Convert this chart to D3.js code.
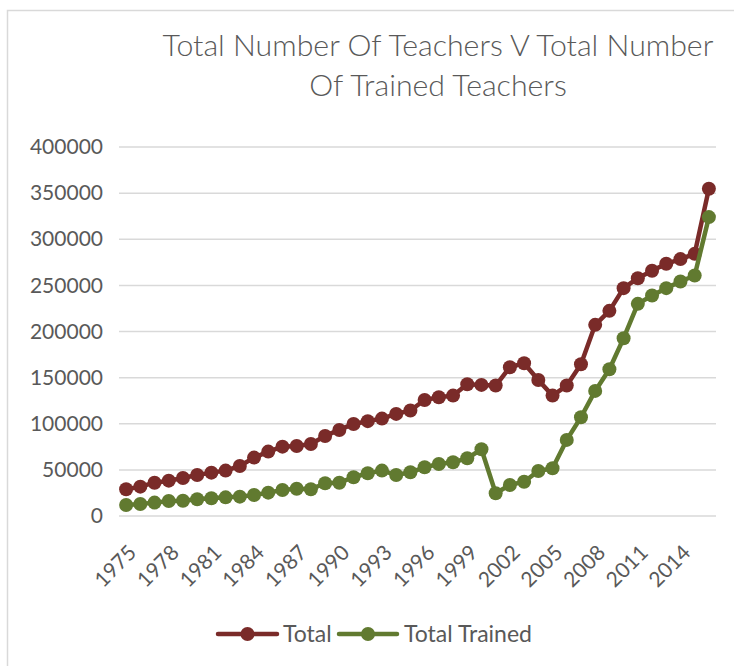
<!DOCTYPE html>
<html>
<head>
<meta charset="utf-8">
<script src="https://cdn.jsdelivr.net/npm/d3@7"></script>
<style>
  html, body { margin: 0; padding: 0; background: #fff; }
  svg { display: block; }
  text { font-family: Lato, "Open Sans", sans-serif; fill: #595959; }
</style>
</head>
<body>
<svg id="chart" width="734" height="666"></svg>
<script>
// Teacher numbers per year
const years = d3.range(1975, 2017);
const totalTeachers = [
  29000, 31800, 36100, 38300, 41200, 44500, 47000, 49200, 54200, 63300,
  69800, 75200, 75900, 78100, 86800, 93300, 99800, 102800, 105600, 110700,
  114300, 125800, 128700, 130500, 142800, 142100, 141400, 161300, 165600, 147500,
  130500, 141400, 164500, 207200, 222400, 247000, 257800, 265800, 273400, 278500,
  284200, 354800
];
const trainedTeachers = [
  11900, 13000, 14500, 16300, 16600, 18100, 19200, 20200, 21000, 22800,
  25300, 28200, 29600, 29000, 35500, 36100, 42000, 46300, 49200, 44500,
  47400, 52800, 56400, 58200, 62600, 72300, 24600, 33600, 37200, 48800,
  51700, 82500, 107000, 135600, 159100, 192700, 230000, 239000, 247000, 254200,
  260700, 324000
];
const yTicks = [0, 50000, 100000, 150000, 200000, 250000, 300000, 350000, 400000];
const xTickLabels = [1975, 1978, 1981, 1984, 1987, 1990, 1993, 1996, 1999, 2002, 2005, 2008, 2011, 2014];
const seriesNames = ["Total", "Total Trained"];
const colors = ["#7A2B29", "#617A30"];

const svg = d3.select("#chart");

// Chart frame
svg.append("rect")
  .attr("x", 7.5).attr("y", 10.5)
  .attr("width", 740).attr("height", 680)
  .attr("fill", "none").attr("stroke", "#D9D9D9").attr("stroke-width", 1.5);

const plot = { left: 119, right: 716, top: 147, bottom: 516 };

const x = d3.scalePoint().domain(years).range([plot.left, plot.right]).padding(0.5);
const y = d3.scaleLinear().domain([0, 400000]).range([plot.bottom, plot.top]);

// Title (two lines), light weight, sized so the first line spans the header width
const title = svg.append("text")
  .attr("text-anchor", "middle")
  .style("font-weight", 300)
  .style("font-size", "30px");
const t1 = title.append("tspan").attr("x", 438).attr("y", 56)
  .text("Total Number Of Teachers V Total Number");
title.append("tspan").attr("x", 438).attr("y", 96)
  .text("Of Trained Teachers");
const w1 = t1.node().getComputedTextLength();
if (w1 > 0) title.style("font-size", (30 * 551 / w1).toFixed(2) + "px");

// Horizontal gridlines
svg.append("g")
  .selectAll("line")
  .data(yTicks)
  .join("line")
  .attr("x1", plot.left).attr("x2", plot.right)
  .attr("y1", d => y(d)).attr("y2", d => y(d))
  .attr("stroke", "#D9D9D9").attr("stroke-width", 1.5);

// Y axis labels
const yAxis = d3.axisLeft(y).tickValues(yTicks).tickSize(0).tickPadding(16)
  .tickFormat(d3.format("d"));
const gy = svg.append("g").attr("transform", `translate(${plot.left},0)`).call(yAxis);
gy.select(".domain").remove();
gy.selectAll("text").style("font-size", "21px").style("fill", "#595959")
  .style("font-family", "Lato, 'Open Sans', sans-serif");

// X axis labels, rotated
const xAxis = d3.axisBottom(x).tickValues(xTickLabels).tickSize(0);
const gx = svg.append("g").attr("transform", `translate(0,${plot.bottom})`).call(xAxis);
gx.select(".domain").remove();
gx.selectAll("text")
  .style("font-size", "21px").style("fill", "#595959")
  .style("font-family", "Lato, 'Open Sans', sans-serif")
  .attr("text-anchor", "end")
  .attr("dy", null)
  .attr("y", 0)
  .attr("transform", "translate(11,38) rotate(-45)");

// Lines and markers
const line = d3.line().x((d, i) => x(years[i])).y(d => y(d));
[totalTeachers, trainedTeachers].forEach((series, s) => {
  const g = svg.append("g");
  g.append("path")
    .datum(series)
    .attr("d", line)
    .attr("fill", "none")
    .attr("stroke", colors[s])
    .attr("stroke-width", 4.5)
    .attr("stroke-linejoin", "round");
  g.selectAll("circle")
    .data(series)
    .join("circle")
    .attr("cx", (d, i) => x(years[i]))
    .attr("cy", d => y(d))
    .attr("r", 7)
    .attr("fill", colors[s]);
});

// Legend
const legendItems = [
  { name: seriesNames[0], color: colors[0], x1: 218, x2: 277, tx: 283 },
  { name: seriesNames[1], color: colors[1], x1: 339, x2: 397, tx: 404 }
];
const lg = svg.append("g");
legendItems.forEach(it => {
  lg.append("line")
    .attr("x1", it.x1).attr("x2", it.x2).attr("y1", 634).attr("y2", 634)
    .attr("stroke", it.color).attr("stroke-width", 4.5).attr("stroke-linecap", "round");
  lg.append("circle")
    .attr("cx", (it.x1 + it.x2) / 2).attr("cy", 634).attr("r", 7)
    .attr("fill", it.color);
  lg.append("text")
    .attr("x", it.tx).attr("y", 642)
    .style("font-size", "23px")
    .text(it.name);
});
</script>
</body>
</html>
